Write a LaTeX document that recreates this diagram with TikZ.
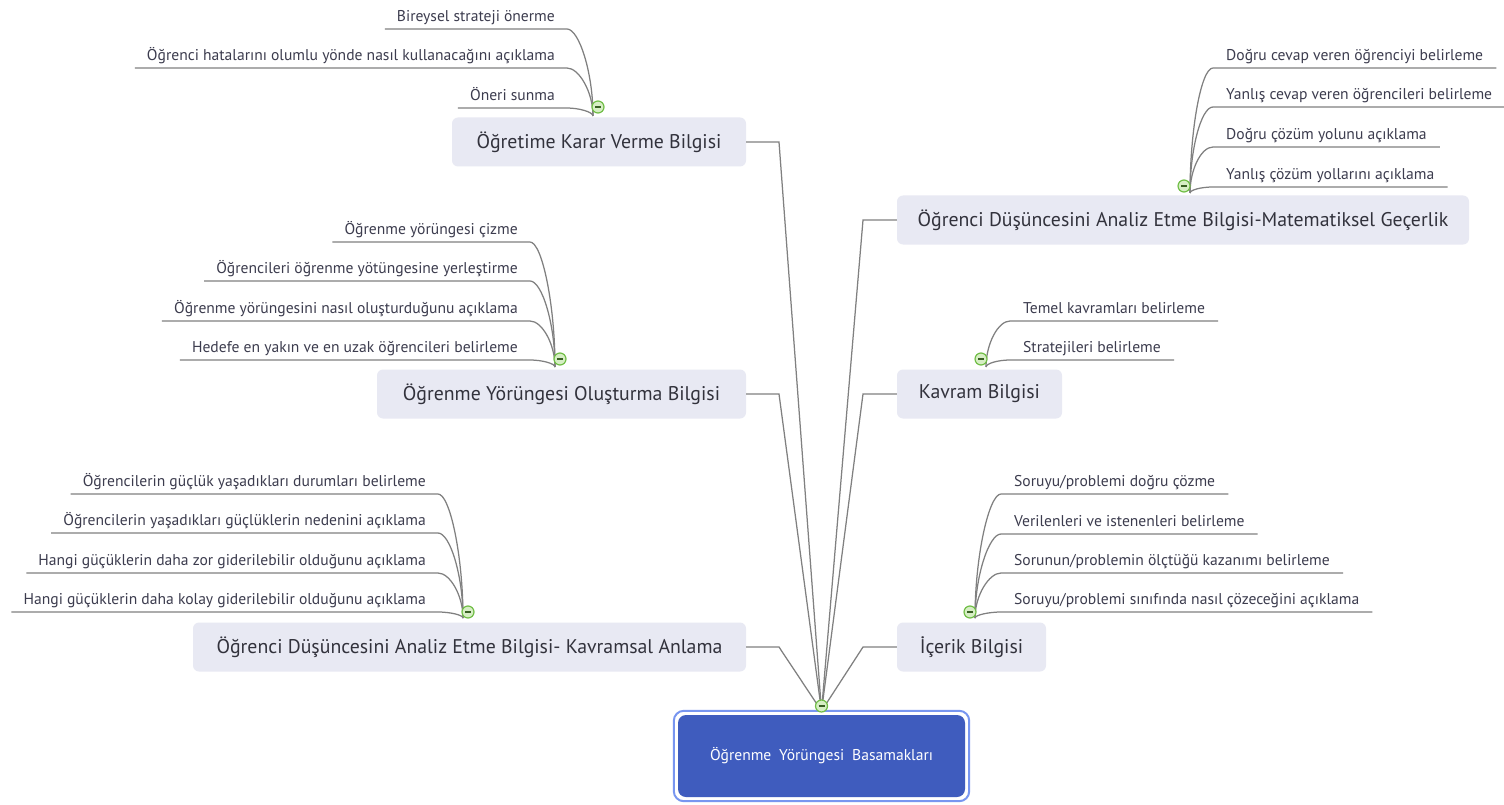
\documentclass[tikz,border=0pt]{standalone}
\usepackage{fontspec}
\setmainfont{PT Sans}
\usetikzlibrary{calc}
\definecolor{boxfill}{RGB}{232,233,243}
\definecolor{linegray}{RGB}{128,128,128}
\definecolor{rootblue}{RGB}{63,92,190}
\definecolor{rootframe}{RGB}{120,150,240}
\definecolor{leaftext}{RGB}{60,60,78}
\definecolor{maintext}{RGB}{50,50,60}
\definecolor{cgreen}{RGB}{112,190,70}
\definecolor{cgreenfill}{RGB}{214,238,196}
\tikzset{
  x=1pt,y=1pt,
  mainbox/.style={fill=boxfill,rounded corners=6pt,minimum height=49pt,inner sep=0pt,
    font=\fontsize{19.8}{22}\selectfont,text=maintext},
  leafL/.style={anchor=south east,inner xsep=12pt,inner ysep=3.5pt,text height=11.5pt,text depth=3.5pt,
    font=\fontsize{15.6}{17}\selectfont,text=leaftext},
  leafR/.style={anchor=south west,inner xsep=13pt,inner ysep=3.5pt,text height=11.5pt,text depth=3.5pt,
    font=\fontsize{15.6}{17}\selectfont,text=leaftext},
  conn/.style={draw=linegray,line width=1.25pt},
  toggle/.style={circle,draw=cgreen,fill=cgreenfill,line width=1.2pt,minimum size=12pt,inner sep=0pt,
    path picture={\draw[cgreen!50!black,line width=1.1pt] ([xshift=-3pt]path picture bounding box.center) -- ([xshift=3pt]path picture bounding box.center);}},
}
\newcommand{\leftleaf}[2]{\draw[conn] (#1.south west) -- (#1.south east) .. controls +(12pt,0pt) and ($(#2)!0.5!(#2|-#1.south east)$) .. (#2);}
\newcommand{\rightleaf}[2]{\draw[conn] (#1.south east) -- (#1.south west) .. controls +(-12pt,0pt) and ($(#2)!0.5!(#2|-#1.south west)$) .. (#2);}
\begin{document}
\begin{tikzpicture}
\useasboundingbox[fill=white] (0,0) rectangle (1504,-805);

% root
\node[fill=rootblue,rounded corners=8pt,minimum width=287pt,minimum height=82pt,inner sep=0pt,
  text=white,font=\fontsize{15.6}{17}\selectfont,align=center] (root) at (821.5,-756)
  {Öğrenme\hspace{0.5em}Yörüngesi\hspace{0.5em}Basamakları};
\draw[rootframe,line width=2pt,rounded corners=10pt] ([shift={(-4pt,4pt)}]root.north west) rectangle ([shift={(4pt,-4pt)}]root.south east);
\coordinate (rc) at (821.5,-711);

% main boxes
\node[mainbox,minimum width=294pt] (m1) at (599,-142) {Öğretime Karar Verme Bilgisi};
\node[mainbox,minimum width=369pt] (m2) at (561.5,-394) {Öğrenme Yörüngesi Oluşturma Bilgisi};
\node[mainbox,minimum width=553pt] (m3) at (469.5,-647) {Öğrenci Düşüncesini Analiz Etme Bilgisi- Kavramsal Anlama};
\node[mainbox,minimum width=572pt] (m4) at (1183,-220) {Öğrenci Düşüncesini Analiz Etme Bilgisi-Matematiksel Geçerlik};
\node[mainbox,minimum width=165pt] (m5) at (979.5,-394) {Kavram Bilgisi};
\node[mainbox,minimum width=149pt] (m6) at (971.5,-647) {İçerik Bilgisi};

\coordinate (k1) at (779,-142);
\coordinate (k2) at (779,-394);
\coordinate (k3) at (779,-647);
\coordinate (k4) at (863,-220);
\coordinate (k5) at (863,-394);
\coordinate (k6) at (863,-647);
\draw[conn] (m1.east) -- (k1) -- (rc);
\draw[conn] (m2.east) -- (k2) -- (rc);
\draw[conn] (m3.east) -- (k3) -- (rc);
\draw[conn] (m4.west) -- (k4) -- (rc);
\draw[conn] (m5.west) -- (k5) -- (rc);
\draw[conn] (m6.west) -- (k6) -- (rc);

% group 1
\coordinate (c1) at (593,-116);
\node[leafL] (a1) at (567,-29) {Bireysel strateji önerme};
\node[leafL] (a2) at (567,-68) {Öğrenci hatalarını olumlu yönde nasıl kullanacağını açıklama};
\node[leafL] (a3) at (567,-108) {Öneri sunma};
\leftleaf{a1}{c1}\leftleaf{a2}{c1}\leftleaf{a3}{c1}

% group 2
\coordinate (c2) at (555,-367);
\node[leafL] (b1) at (530,-242) {Öğrenme yörüngesi çizme};
\node[leafL] (b2) at (530,-281) {Öğrencileri öğrenme yötüngesine yerleştirme};
\node[leafL] (b3) at (530,-321) {Öğrenme yörüngesini nasıl oluşturduğunu açıklama};
\node[leafL] (b4) at (530,-360) {Hedefe en yakın ve en uzak öğrencileri belirleme};
\leftleaf{b1}{c2}\leftleaf{b2}{c2}\leftleaf{b3}{c2}\leftleaf{b4}{c2}

% group 3
\coordinate (c3) at (463,-618);
\node[leafL] (d1) at (438,-494) {Öğrencilerin güçlük yaşadıkları durumları belirleme};
\node[leafL] (d2) at (438,-533) {Öğrencilerin yaşadıkları güçlüklerin nedenini açıklama};
\node[leafL] (d3) at (438,-573) {Hangi güçüklerin daha zor giderilebilir olduğunu açıklama};
\node[leafL] (d4) at (438,-612) {Hangi güçüklerin daha kolay giderilebilir olduğunu açıklama};
\leftleaf{d1}{c3}\leftleaf{d2}{c3}\leftleaf{d3}{c3}\leftleaf{d4}{c3}

% group 4
\coordinate (c4) at (1190,-193);
\node[leafR] (e1) at (1213,-68) {Doğru cevap veren öğrenciyi belirleme};
\node[leafR] (e2) at (1213,-107) {Yanlış cevap veren öğrencileri belirleme};
\node[leafR] (e3) at (1213,-147) {Doğru çözüm yolunu açıklama};
\node[leafR] (e4) at (1213,-187) {Yanlış çözüm yollarını açıklama};
\rightleaf{e1}{c4}\rightleaf{e2}{c4}\rightleaf{e3}{c4}\rightleaf{e4}{c4}

% group 5
\coordinate (c5) at (986,-367);
\node[leafR] (f1) at (1010,-321) {Temel kavramları belirleme};
\node[leafR] (f2) at (1010,-360) {Stratejileri belirleme};
\rightleaf{f1}{c5}\rightleaf{f2}{c5}

% group 6
\coordinate (c6) at (975,-618);
\node[leafR] (g1) at (1001,-494) {Soruyu/problemi doğru çözme};
\node[leafR] (g2) at (1001,-534) {Verilenleri ve istenenleri belirleme};
\node[leafR] (g3) at (1001,-573) {Sorunun/problemin ölçtüğü kazanımı belirleme};
\node[leafR] (g4) at (1001,-612) {Soruyu/problemi sınıfında nasıl çözeceğini açıklama};
\rightleaf{g1}{c6}\rightleaf{g2}{c6}\rightleaf{g3}{c6}\rightleaf{g4}{c6}

% toggles
\node[toggle] (t1) at (598,-107) {};
\node[toggle] (t2) at (560,-359) {};
\node[toggle] (t3) at (468,-612) {};
\node[toggle] (t4) at (1184,-186) {};
\node[toggle] (t5) at (981,-359) {};
\node[toggle] (t6) at (970,-612) {};
\node[toggle] (t0) at (821.5,-706) {};
\end{tikzpicture}
\end{document}
